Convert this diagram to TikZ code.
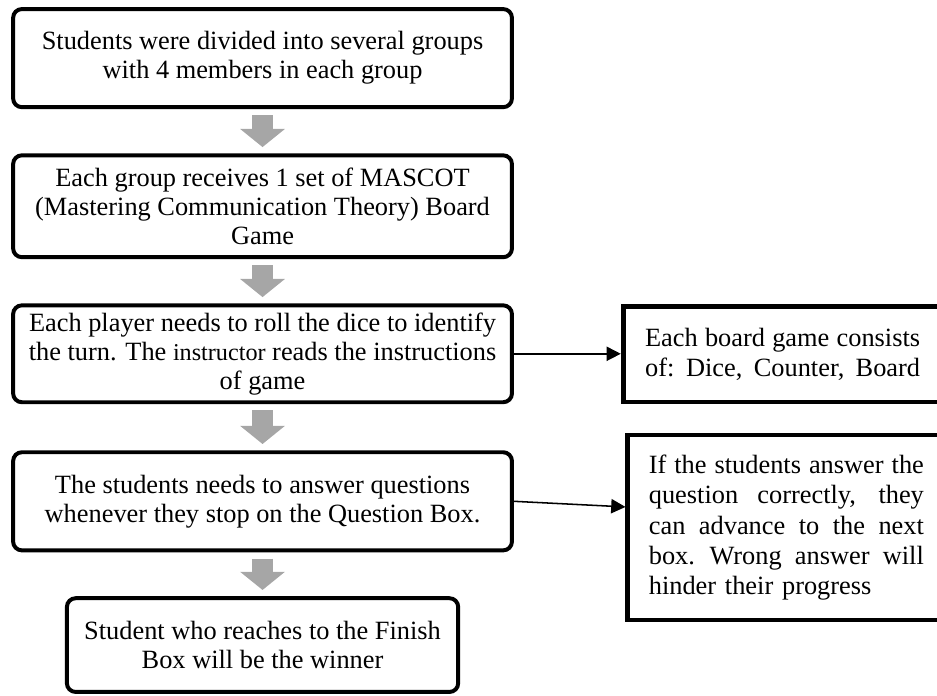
\documentclass[tikz,border=0pt]{standalone}
\usepackage{fontspec}
\setmainfont{Liberation Serif}
\usetikzlibrary{arrows.meta,calc}
\definecolor{flowgray}{RGB}{166,166,166}
\newcommand{\jline}[1]{\leavevmode\hbox to 4.4cm{\spaceskip=.25em plus 1fil\xspaceskip=.3em plus 1fil\relax #1}}
\tikzset{
 stage/.style={draw,line width=1.8pt,rounded corners=4pt,fill=white,align=center,inner sep=0,minimum width=7.98cm,font=\fontsize{12}{13.2}\selectfont},
 note/.style={draw,line width=2.2pt,fill=white,inner sep=0,text width=4.4cm,font=\fontsize{12}{13.8}\selectfont},
 flow/.style={draw=flowgray,line width=0.35cm,-{Triangle[length=0.29cm,width=0.7cm]}},
 link/.style={line width=.7pt,-{Triangle[length=6.5pt,width=6.5pt]}}
}

\begin{document}
\begin{tikzpicture}[x=1cm,y=1cm]
\path[use as bounding box] (0,0) rectangle (14.99,11.12);
\clip (0,0) rectangle (14.99,11.12);
\node[stage,minimum height=1.57cm] (b1) at (4.20,10.19) {Students were divided into several groups\\with 4 members in each group};
\node[stage,minimum height=1.63cm] (b2) at (4.20,7.82) {Each group receives 1 set of MASCOT\\(Mastering Communication Theory) Board\\Game};
\node[stage,minimum height=1.55cm] (b3) at (4.20,5.46) {Each player needs to roll the dice to identify\\the turn. The {\fontsize{11}{13}\selectfont instructor} reads the instructions\\of game};
\node[stage,minimum height=1.57cm] (b4) at (4.20,3.10) {The students needs to answer questions\\whenever they stop on the Question Box.};
\node[stage,minimum height=1.50cm,minimum width=6.26cm] (b5) at (4.20,0.80) {Student who reaches to the Finish\\Box will be the winner};
\node[note,minimum width=5.10cm,minimum height=1.52cm] (parts) at (12.52,5.45) {\jline{Each board game consists}\\\jline{of: Dice, Counter, Board}};
\node[note,minimum width=5.07cm,minimum height=2.96cm] (rule) at (12.58,2.68) {\jline{If the students answer the}\\\jline{question correctly, they}\\\jline{can advance to the next}\\\jline{box. Wrong answer will}\\hinder their progress};
% gray arrows between the stages
\draw[flow] ([yshift=-0.1cm]b1.south) -- ([yshift=0.1cm]b2.north);
\draw[flow] ([yshift=-0.1cm]b2.south) -- ([yshift=0.1cm]b3.north);
\draw[flow] ([yshift=-0.1cm]b3.south) -- ([yshift=0.1cm]b4.north);
\draw[flow] ([yshift=-0.1cm]b4.south) -- ([yshift=0.1cm]b5.north);
% side notes
\draw[link] (b3.east) -- (b3.east -| parts.west);
\draw[link] (b4.east) -- ($(b4.east -| rule.west)+(0,-0.09)$);
\end{tikzpicture}
\end{document}
